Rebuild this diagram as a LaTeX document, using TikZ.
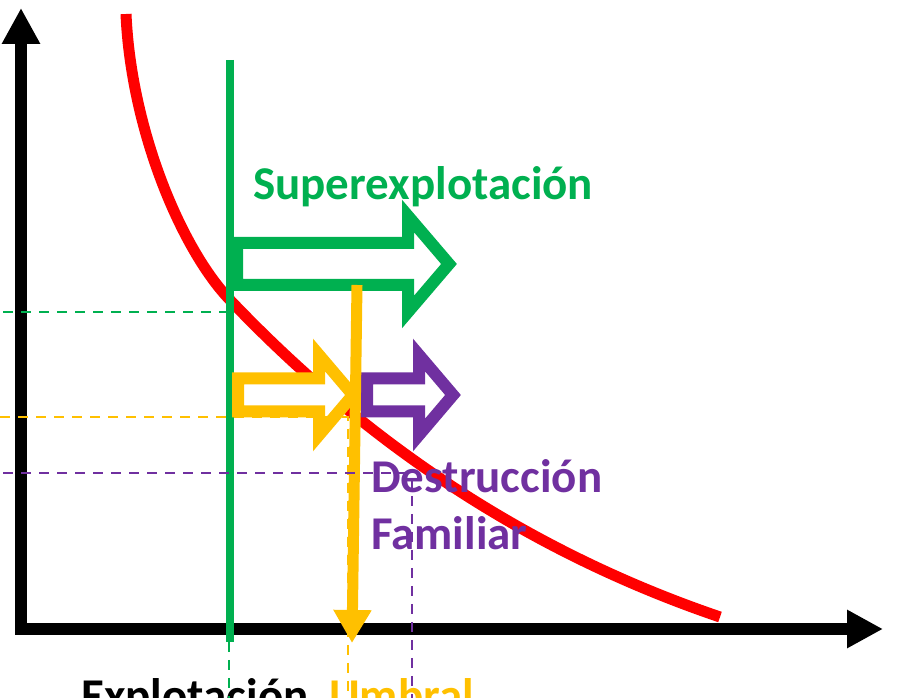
\documentclass[tikz,border=0pt]{standalone}
\usepackage{fontspec}
\setmainfont{Carlito}
\usetikzlibrary{arrows.meta,positioning}
\definecolor{supergreen}{RGB}{0,176,80}
\definecolor{umbralyellow}{RGB}{255,192,0}
\definecolor{destrpurple}{RGB}{112,48,160}
\definecolor{curvered}{RGB}{255,0,0}
\begin{document}
\begin{tikzpicture}[x=1pt,y=1pt,
    guide/.style={line width=2pt, dash pattern=on 10pt off 8pt},
    tagtext/.style={font=\bfseries\fontsize{47}{56}\selectfont, inner sep=0pt, anchor=base west}]
  \useasboundingbox (-21,-69) rectangle (876,629);
  \clip (-21,-69) rectangle (876,629);
  % axes
  \draw[line width=12pt, {Triangle[length=36pt,width=36pt]}-{Triangle[length=36pt,width=36pt]}]
    (0,621) -- (0,0) -- (862,0);
  % curve
  \draw[curvered, line width=11pt] (105,615) .. controls (110,500) and (160,380) .. (209,329)
    .. controls (339,192.5) and (499,80) .. (699,12);
  \draw[supergreen, line width=8pt] (209,569) -- (209,-13);
  % block arrows
  \foreach \col/\lx/\ym/\bh/\hb/\hh/\tip in {supergreen/216/365/21/387/48/428,
      umbralyellow/217/234/16.5/298/40/332, destrpurple/346/234/16.5/398/40/432}{
    \draw[color=\col, line width=12pt, fill=white, line join=miter]
      (\lx,\ym+\bh) -- (\hb,\ym+\bh) -- (\hb,\ym+\hh) -- (\tip,\ym)
      -- (\hb,\ym-\hh) -- (\hb,\ym-\bh) -- (\lx,\ym-\bh) -- cycle;
  }
  \draw[umbralyellow, line width=11pt, -{Triangle[length=33pt,width=36pt]}] (336,344) -- (331,-14);
  % labels
  \node[tagtext, supergreen] (superexp) at (232,429) {Superexplotación};
  \node[tagtext, destrpurple] (destr) at (350,136) {Destrucción};
  \node[tagtext, destrpurple] (famil) at ([yshift=-57pt]destr.base west) {Familiar};
  \node[tagtext] (explot) at (60,-83) {Explotación};
  \node[tagtext, umbralyellow] (umbral) at (308,-83) {Umbral};
  % dashed guides
  \draw[guide, supergreen] (-18,317) -- (209,317);
  \draw[guide, supergreen] (208,-13) -- (208,-75);
  \draw[guide, umbralyellow] (-21,212) -- (327,212) -- (327,-75);
  \draw[guide, destrpurple] (-18,156) -- (391,156) -- (391,-75);
\end{tikzpicture}
\end{document}
